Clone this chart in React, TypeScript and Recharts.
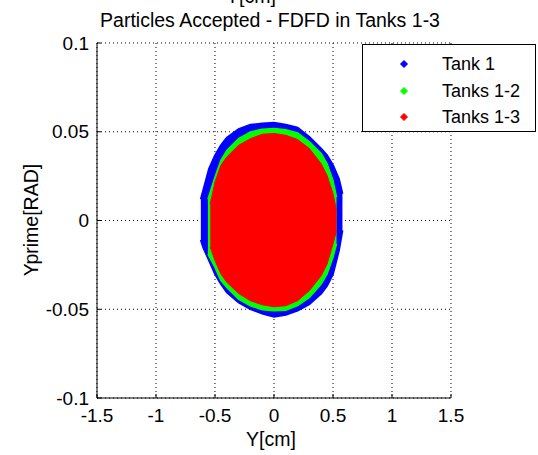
import {
  ComposedChart,
  Area,
  XAxis,
  YAxis,
  CartesianGrid,
  Legend,
} from "recharts";

// Y[cm] sample positions and Yprime[RAD] envelope (low / high) for each set
const tank1X = [-0.62, -0.6, -0.55, -0.5, -0.45, -0.4, -0.3, -0.2, -0.1, 0, 0.1, 0.2, 0.3, 0.4, 0.45, 0.5, 0.55, 0.58];
const tank1Low = [-0.011, -0.0151, -0.0226, -0.0301, -0.0358, -0.0405, -0.0461, -0.0499, -0.0524, -0.0542, -0.0531, -0.0508, -0.0471, -0.0411, -0.0367, -0.0301, -0.0169, -0.0056];
const tank1High = [0.012, 0.0169, 0.0292, 0.0367, 0.0424, 0.0467, 0.0514, 0.0539, 0.0546, 0.055, 0.054, 0.0523, 0.0471, 0.0405, 0.0367, 0.0311, 0.0235, 0.0151];

const tanks12X = [-0.56, -0.5, -0.45, -0.4, -0.3, -0.2, -0.1, 0, 0.1, 0.2, 0.3, 0.4, 0.45, 0.5, 0.53];
const tanks12Low = [-0.019, -0.0264, -0.0339, -0.0377, -0.0443, -0.048, -0.0503, -0.0508, -0.0505, -0.048, -0.0433, -0.0358, -0.0301, -0.0207, -0.0132];
const tanks12High = [0.012, 0.0245, 0.0339, 0.0395, 0.0461, 0.0499, 0.0514, 0.0518, 0.0512, 0.0493, 0.0443, 0.0377, 0.032, 0.0226, 0.0132];

const tanks13X = [-0.54, -0.5, -0.45, -0.4, -0.3, -0.2, -0.1, 0, 0.1, 0.2, 0.3, 0.4, 0.45, 0.5, 0.53];
const tanks13Low = [-0.0151, -0.0226, -0.0301, -0.0348, -0.0411, -0.0452, -0.0475, -0.0486, -0.048, -0.0452, -0.0395, -0.0311, -0.0245, -0.0132, -0.0056];
const tanks13High = [0.0094, 0.0217, 0.0311, 0.0358, 0.0424, 0.0461, 0.0486, 0.049, 0.048, 0.0456, 0.0405, 0.032, 0.0254, 0.0151, 0.0056];

const seriesNames = ["Tank 1", "Tanks 1-2", "Tanks 1-3"];
const seriesColors = ["#0000ff", "#00ff00", "#ff0000"];

const xTicks = [-1.5, -1, -0.5, 0, 0.5, 1, 1.5];
const yTicks = [-0.1, -0.05, 0, 0.05, 0.1];

const FONT = '"Liberation Sans", Arial, sans-serif';

function buildRows() {
  const sets = [
    { key: "t1", xs: tank1X, lo: tank1Low, hi: tank1High },
    { key: "t12", xs: tanks12X, lo: tanks12Low, hi: tanks12High },
    { key: "t13", xs: tanks13X, lo: tanks13Low, hi: tanks13High },
  ];
  const map = new Map<number, any>();
  sets.forEach((s) => {
    s.xs.forEach((x, i) => {
      const row = map.get(x) || { x };
      row[s.key] = [s.lo[i], s.hi[i]];
      map.set(x, row);
    });
  });
  return Array.from(map.values()).sort((a, b) => a.x - b.x);
}

const rows = buildRows();

function Diamond({ cx, cy, color }: { cx: number; cy: number; color: string }) {
  const r = 3.5;
  return (
    <polygon
      points={`${cx},${cy - r} ${cx + r},${cy} ${cx},${cy + r} ${cx - r},${cy}`}
      fill={color}
      stroke={color}
    />
  );
}

function LegendBox() {
  return (
    <div
      style={{
        width: 172,
        height: 86,
        border: "1px solid #000",
        background: "#fff",
        fontFamily: FONT,
        fontSize: 18,
        position: "relative",
      }}
    >
      {seriesNames.map((name, i) => (
        <div
          key={name}
          style={{
            position: "absolute",
            left: 0,
            top: 8 + i * 26.5,
            height: 22,
            lineHeight: "22px",
            width: "100%",
          }}
        >
          <svg width={60} height={22} style={{ position: "absolute", left: 20, top: 0 }}>
            <Diamond cx={21} cy={11} color={seriesColors[i]} />
          </svg>
          <span style={{ position: "absolute", left: 79, top: 0, color: "#000" }}>{name}</span>
        </div>
      ))}
    </div>
  );
}

export default function App() {
  const tickStyle = { fontSize: 19, fill: "#000", fontFamily: FONT };
  return (
    <div style={{ position: "absolute", left: 0, top: 0, width: 538, height: 455, background: "#fff" }}>
      <ComposedChart
        width={538}
        height={455}
        data={rows}
        margin={{ top: 43, right: 87, bottom: 56, left: 96 }}
      >
        <CartesianGrid stroke="#000" strokeDasharray="1 3" />
        <XAxis
          dataKey="x"
          type="number"
          domain={[-1.5, 1.5]}
          ticks={xTicks}
          interval={0}
          height={1}
          tick={tickStyle}
          tickSize={-4}
          tickMargin={15}
          axisLine={{ stroke: "#000" }}
          tickLine={{ stroke: "#000" }}
          allowDataOverflow
        />
        <YAxis
          type="number"
          domain={[-0.1, 0.1]}
          ticks={yTicks}
          interval={0}
          width={1}
          tick={tickStyle}
          tickSize={-4}
          tickMargin={12}
          axisLine={{ stroke: "#000" }}
          tickLine={{ stroke: "#000" }}
          allowDataOverflow
        />
        <Area
          dataKey="t1"
          name={seriesNames[0]}
          type="linear"
          fill={seriesColors[0]}
          fillOpacity={1}
          stroke={seriesColors[0]}
          strokeWidth={2}
          connectNulls
          dot={false}
          activeDot={false}
          isAnimationActive={false}
        />
        <Area
          dataKey="t12"
          name={seriesNames[1]}
          type="linear"
          fill={seriesColors[1]}
          fillOpacity={1}
          stroke={seriesColors[1]}
          strokeWidth={1.5}
          connectNulls
          dot={false}
          activeDot={false}
          isAnimationActive={false}
        />
        <Area
          dataKey="t13"
          name={seriesNames[2]}
          type="linear"
          fill={seriesColors[2]}
          fillOpacity={1}
          stroke={seriesColors[2]}
          strokeWidth={1}
          connectNulls
          dot={false}
          activeDot={false}
          isAnimationActive={false}
        />
        <Legend
          layout="vertical"
          align="center"
          verticalAlign="middle"
          wrapperStyle={{ left: 362, top: 44, width: 174, height: 88 }}
          content={() => <LegendBox />}
        />
      </ComposedChart>
      <svg
        width={538}
        height={455}
        style={{ position: "absolute", left: 0, top: 0, pointerEvents: "none" }}
      >
        <g fontFamily={FONT} fontSize={19.5} fill="#000">
          <text x={251} y={3} textAnchor="middle">Y[cm]</text>
          <text x={270} y={27} textAnchor="middle">Particles Accepted - FDFD in Tanks 1-3</text>
          <text x={271} y={446} textAnchor="middle">Y[cm]</text>
          <text x={38} y={220} textAnchor="middle" transform="rotate(-90 38 220)">Yprime[RAD]</text>
        </g>
      </svg>
    </div>
  );
}
